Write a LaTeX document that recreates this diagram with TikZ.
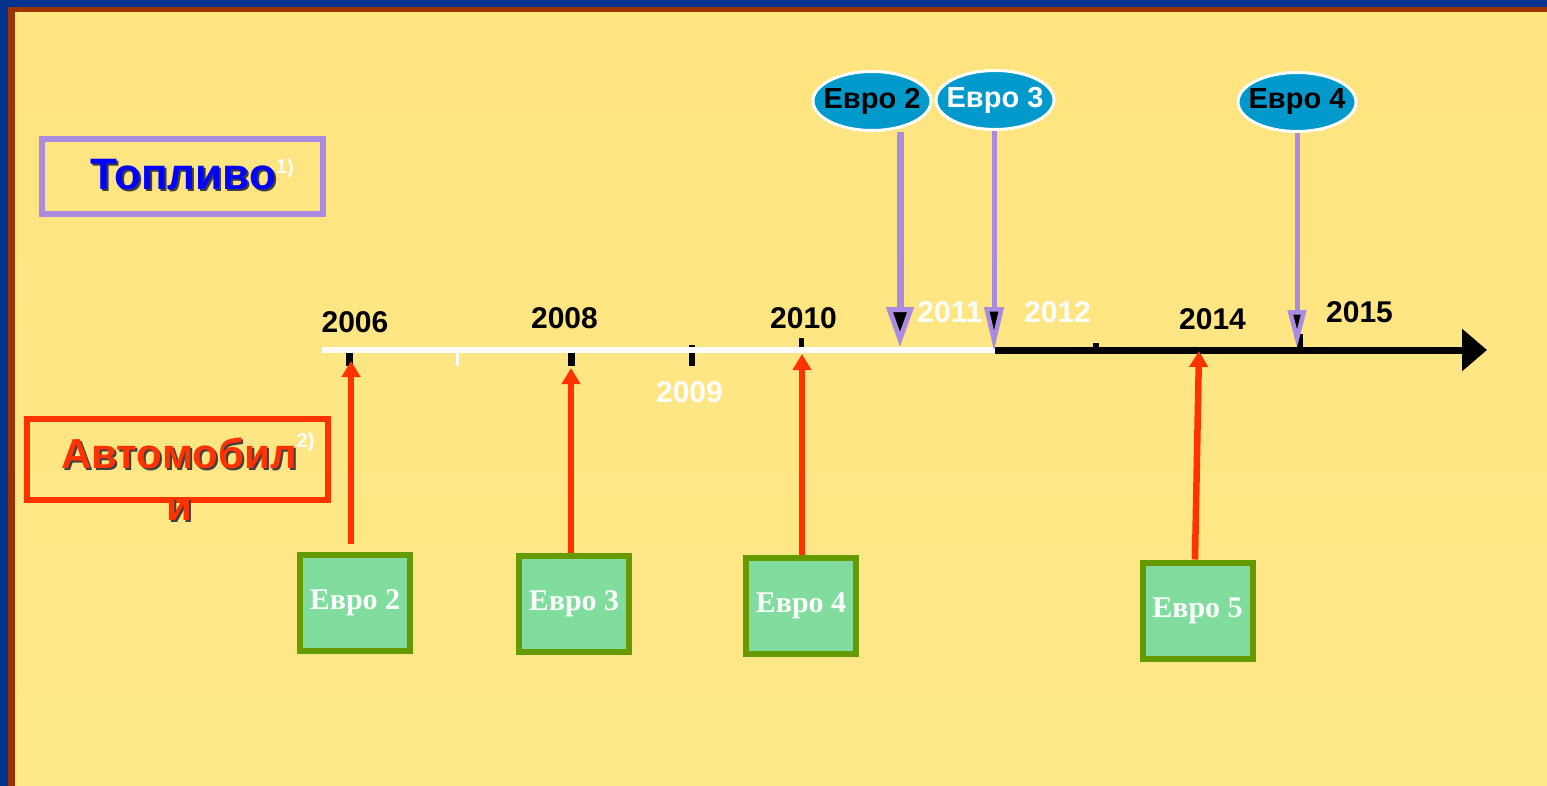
\documentclass[tikz,border=0pt]{standalone}
\usepackage{fontspec}
\setmainfont{Liberation Serif}
\setsansfont{Liberation Sans}
\usetikzlibrary{shapes.geometric,arrows.meta}

\definecolor{frameblue}{RGB}{0,51,141}
\definecolor{framerust}{RGB}{153,51,0}
\definecolor{bgtop}{RGB}{255,228,127}
\definecolor{bgmid}{RGB}{255,242,184}
\definecolor{bgbot}{RGB}{255,232,138}
\definecolor{fuelpurple}{RGB}{169,139,223}
\definecolor{fuelblue}{RGB}{0,0,255}
\definecolor{carred}{RGB}{255,51,0}
\definecolor{stdblue}{RGB}{0,153,204}
\definecolor{boxgreen}{RGB}{102,153,0}
\definecolor{boxfill}{RGB}{128,221,158}

\newcommand\shadowtext[2]{\rlap{\hspace{2pt}\raisebox{-2pt}{\color{black!75}#2}}\textcolor{#1}{#2}}
\newcommand\notemark[2]{\rlap{\fontsize{20}{20}\selectfont\raisebox{#1}{\color{white}#2}}}

\tikzset{
  year/.style={font=\sffamily\bfseries\fontsize{30}{30}\selectfont, inner sep=0pt},
  catbox/.style={draw, line width=6pt, inner sep=0pt},
  cattext/.style={inner sep=0pt, font=\sffamily\bfseries},
  fuelstd/.style={ellipse, draw=white, line width=3pt, fill=stdblue,
    minimum width=118pt, minimum height=59pt, inner sep=0pt},
  stdlabel/.style={inner sep=0pt, font=\sffamily\bfseries\fontsize{29}{29}\selectfont},
  carstd/.style={draw=boxgreen, fill=boxfill, line width=6pt, minimum width=110pt,
    minimum height=96pt, inner sep=0pt, text=white,
    font=\rmfamily\bfseries\fontsize{30}{30}\selectfont},
  fuelarrow/.style={draw=fuelpurple, line width=#1},
  cararrow/.style={draw=carred, line width=6.5pt, -{Triangle[width=18pt,length=16pt]}}
}

\begin{document}
\begin{tikzpicture}[x=1pt,y=-1pt]
  \useasboundingbox (0,0) rectangle (1547,786);

  % Background
  \fill[frameblue] (0,0) rectangle (1547,786);
  \fill[framerust] (8,7) rectangle (1547,786);
  \shade[top color=bgtop, middle color=bgmid, bottom color=bgbot] (15,13) rectangle (1547,786);

  % Headings
  \node[catbox, draw=fuelpurple, minimum width=281pt, minimum height=75pt] (fuel) at (182.5,176.5) {};
  \node[cattext, font=\sffamily\bfseries\fontsize{44}{44}\selectfont] (fueltxt) at (183,175)
    {\shadowtext{fuelblue}{Топливо}\notemark{16pt}{1)}};
  \node[catbox, draw=carred, minimum width=301pt, minimum height=81pt] (cars) at (177.5,459.5) {};
  \node[cattext, align=center, anchor=base, font=\sffamily\bfseries\fontsize{42}{52}\selectfont] (carstxt) at (179,520)
    {\shadowtext{carred}{Автомобил}\notemark{21pt}{2)}\\\shadowtext{carred}{и}};

  % Ticks
  \foreach \tx/\ta/\tb/\tw/\tc in {349/350/366/7/black, 457.5/350/366/3/white, 571/353/366/7/black,
      692/345/366/6/black, 801/338/350/5/black, 1096/343/350/6/black, 1300/334/347/6/black}
    \fill[\tc] (\tx-\tw/2,\ta) rectangle (\tx+\tw/2,\tb);

  % Time axis
  \coordinate (ax0) at (322,350);
  \coordinate (axm) at (995,350);
  \coordinate (ax1) at (1487,350);
  \draw[white, line width=6pt] (ax0) -- (axm);
  \draw[black, line width=7pt, -{Triangle[width=41pt,length=25pt]}] (axm) -- (ax1);

  % Years
  \foreach \yr/\px/\py/\yc in {2006/355/322/black, 2008/564.5/318.5/black, 2009/689.5/392/white,
      2010/803.5/318/black, 2011/950/312/white, 2012/1057.5/312/white,
      2014/1212.5/319/black, 2015/1359.5/312/black}
    \node[year, text=\yc] (y\yr) at (\px,\py) {\yr};

  % Fuel standards
  \node[fuelstd, label={[stdlabel, text=black]center:Евро 2}] (f2) at (872,101) {};
  \node[fuelstd, label={[stdlabel, text=white]center:Евро 3}] (f3) at (995,100) {};
  \node[fuelstd, label={[stdlabel, text=black]center:Евро 4}] (f4) at (1297,102) {};

  \coordinate (t2011) at (900,347);
  \coordinate (t2012) at (994,351);
  \coordinate (t2015) at (1297,348);
  \draw[fuelarrow=7pt, -{Triangle[width=27pt,length=40pt,fill=black,line width=5pt]}] (t2011 |- f2.south) -- (t2011);
  \draw[fuelarrow=5pt, -{Triangle[width=19pt,length=44pt,fill=black,line width=4.5pt]}] (t2012 |- f3.south) -- (t2012);
  \draw[fuelarrow=5pt, -{Triangle[width=18pt,length=38pt,fill=black,line width=4.5pt]}] (t2015 |- f4.south) -- (t2015);

  % Vehicle standards
  \node[carstd] (c2) at (355,603) {Евро 2};
  \node[carstd] (c3) at (574,604) {Евро 3};
  \node[carstd] (c4) at (801,606) {Евро 4};
  \node[carstd] (c5) at (1197.5,610.5) {Евро 5};

  \coordinate (a2006) at (351,361);
  \coordinate (a2008) at (571,368);
  \coordinate (a2010) at (802,354);
  \coordinate (a2014) at (1199,351);
  \draw[cararrow, shorten <=8pt] (a2006 |- c2.north) -- (a2006);
  \draw[cararrow] (a2008 |- c3.north) -- (a2008);
  \draw[cararrow] (a2010 |- c4.north) -- (a2010);
  \draw[cararrow] ([xshift=-2.5pt]c5.north) -- (a2014);
\end{tikzpicture}
\end{document}
